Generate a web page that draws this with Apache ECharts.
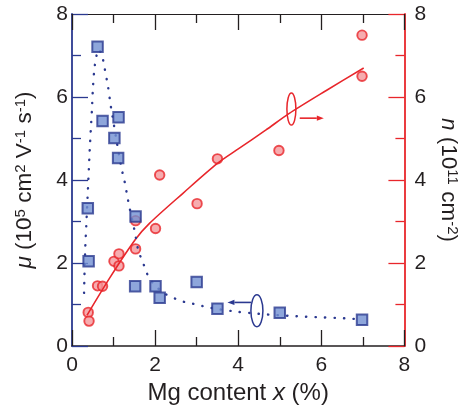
<!DOCTYPE html>
<html>
<head>
<meta charset="utf-8">
<script src="https://cdn.jsdelivr.net/npm/echarts@6/dist/echarts.min.js"></script>
<style>
  html, body { margin: 0; padding: 0; background: #fff; }
  #chart { width: 468px; height: 410px; }
</style>
</head>
<body>
<div id="chart"></div>
<script>
// Mobility (mu, 1e5 cm^2/Vs) vs Mg content x (%)
const muX = [0.38, 0.40, 0.615, 0.735, 1.02, 1.12, 1.11, 1.53, 1.52, 2.01, 2.11, 3.0, 3.5, 5.0, 6.98];
const muY = [3.32, 2.04, 7.21, 5.42, 5.01, 5.51, 4.53, 3.12, 1.44, 1.44, 1.16, 1.54, 0.90, 0.80, 0.63];

// Carrier density (n, 1e11 cm^-2) vs Mg content x (%)
const nX = [0.39, 0.41, 0.615, 0.735, 1.01, 1.13, 1.13, 1.53, 1.53, 2.01, 2.11, 3.01, 3.5, 4.98, 6.98, 6.98];
const nY = [0.81, 0.60, 1.45, 1.44, 2.04, 2.22, 1.93, 3.02, 2.34, 2.83, 4.12, 3.43, 4.51, 4.71, 7.49, 6.50];

// Guide curve through the mobility data (dotted)
const muGuideX = [0.29, 0.30, 0.32, 0.35, 0.38, 0.41, 0.43, 0.455, 0.48, 0.50, 0.53, 0.57, 0.64, 0.72, 0.79, 0.87, 0.93, 0.97, 1.08, 1.19, 1.25, 1.33, 1.37, 1.51, 1.59, 1.67, 1.75, 1.83, 2.0, 2.27, 2.51, 2.71, 2.95, 3.15, 3.5, 4.02, 4.46, 4.68, 5.34, 6.0, 6.5, 7.0];
const muGuideY = [1.28, 1.72, 2.38, 3.04, 3.70, 4.36, 4.80, 5.26, 5.70, 6.15, 6.59, 6.90, 7.15, 7.02, 6.67, 6.23, 5.80, 5.56, 4.90, 4.28, 4.04, 3.62, 3.40, 2.76, 2.32, 2.10, 1.90, 1.69, 1.45, 1.24, 1.13, 1.06, 1.01, 0.96, 0.89, 0.82, 0.78, 0.76, 0.72, 0.69, 0.67, 0.64];

// Fit curve through the density data (solid)
const nFitX = [0.36, 0.92, 1.52, 1.87, 2.67, 3.5, 4.02, 4.66, 5.22, 6.14, 7.02];
const nFitY = [0.74, 1.66, 2.56, 2.96, 3.68, 4.40, 4.76, 5.20, 5.60, 6.17, 6.70];

// Axis ticks
const tickMin = 0, tickMax = 8, tickStep = 2;

const FONT = "'Liberation Sans', Arial, sans-serif";
const INK = '#231f20';
const BLUE = '#2b3990';
const RED = '#e8262b';

const pairs = (xs, ys) => xs.map((x, i) => [x, ys[i]]);

function richFor(size) {
  return {
    i: { fontFamily: FONT, fontSize: size, fontStyle: 'italic', color: INK },
    s: { fontFamily: FONT, fontSize: Math.round(size * 0.66), color: INK, verticalAlign: 'top' },
    t: { fontFamily: FONT, fontSize: size, color: INK }
  };
}

function valueAxis(lineColor, lineWidth, extra) {
  return Object.assign({
    type: 'value',
    min: tickMin, max: tickMax, interval: tickStep,
    splitLine: { show: false },
    axisLine: { show: true, onZero: false, lineStyle: { color: lineColor, width: lineWidth } },
    axisTick: { show: true, inside: true, length: 16, lineStyle: { color: lineColor, width: 1.3 } },
    minorTick: { show: true, splitNumber: 2, length: 9, lineStyle: { color: lineColor, width: 1.3 } },
    axisLabel: { fontFamily: FONT, fontSize: 21, color: INK }
  }, extra);
}

const chart = echarts.init(document.getElementById('chart'), null, { renderer: 'canvas' });

chart.setOption({
  animation: false,
  textStyle: { fontFamily: FONT },
  grid: { left: 72, right: 62, top: 14, bottom: 64, containLabel: false },
  xAxis: [
    valueAxis(INK, 1.5, {
      position: 'bottom',
      axisLabel: { fontFamily: FONT, fontSize: 21, color: INK, margin: 9 },
      name: '{t|Mg content }{i|x}{t| (%)}',
      nameLocation: 'middle',
      nameGap: 33,
      nameTextStyle: { fontFamily: FONT, fontSize: 24, color: INK, rich: richFor(24) }
    }),
    valueAxis(INK, 1.2, {
      position: 'top',
      axisLabel: { show: false }
    })
  ],
  yAxis: [
    valueAxis(BLUE, 1.8, {
      position: 'left',
      axisLabel: { fontFamily: FONT, fontSize: 21, color: INK, margin: 4 },
      name: '{i|μ}{t| (10}{s|5}{t| cm}{s|2}{t| V}{s|-1}{t| s}{s|-1}{t|)}',
      nameLocation: 'middle',
      nameRotate: 90,
      nameGap: 36,
      nameTextStyle: { fontFamily: FONT, fontSize: 22.5, color: INK, rich: richFor(22.5) }
    }),
    valueAxis(RED, 1.8, {
      position: 'right',
      axisLabel: { fontFamily: FONT, fontSize: 21, color: INK, margin: 10 },
      name: '{i|n}{t| (10}{s|11}{t| cm}{s|-2}{t|)}',
      nameLocation: 'middle',
      nameRotate: -90,
      nameGap: 26,
      nameTextStyle: { fontFamily: FONT, fontSize: 22.5, color: INK, rich: richFor(22.5) }
    })
  ],
  series: [
    {
      type: 'scatter', xAxisIndex: 0, yAxisIndex: 1,
      data: pairs(nX, nY),
      symbol: 'circle', symbolSize: 9.5,
      itemStyle: { color: '#f4979b', borderColor: RED, borderWidth: 1.9 },
      z: 2, silent: true
    },
    {
      type: 'line', xAxisIndex: 0, yAxisIndex: 1,
      data: pairs(nFitX, nFitY),
      symbol: 'none', smooth: 0.3,
      lineStyle: { color: RED, width: 1.6 },
      z: 3, silent: true
    },
    {
      type: 'line', xAxisIndex: 0, yAxisIndex: 0,
      data: pairs(muGuideX, muGuideY),
      symbol: 'none', smooth: 0.2,
      lineStyle: { color: BLUE, width: 2.4, type: [0.3, 9.2], cap: 'round' },
      z: 3, silent: true
    },
    {
      type: 'scatter', xAxisIndex: 0, yAxisIndex: 0,
      data: pairs(muX, muY),
      symbol: 'rect', symbolSize: 10.5,
      itemStyle: { color: '#7290d2', borderColor: BLUE, borderWidth: 2 },
      z: 5, silent: true
    }
  ]
});

// Loop-and-arrow markers indicating which axis each data set belongs to
function loopArrow(color, center, rx, ry, from, to) {
  const c = chart.convertToPixel({ xAxisIndex: 0, yAxisIndex: 0 }, center);
  const a = chart.convertToPixel({ xAxisIndex: 0, yAxisIndex: 0 }, from);
  const b = chart.convertToPixel({ xAxisIndex: 0, yAxisIndex: 0 }, to);
  const dir = Math.sign(b[0] - a[0]);
  const head = 7, half = 2.6;
  return [
    { type: 'ellipse', shape: { cx: c[0], cy: c[1], rx: rx, ry: ry },
      style: { fill: 'none', stroke: color, lineWidth: 1.5 }, z: 10 },
    { type: 'line', shape: { x1: a[0], y1: a[1], x2: b[0] - dir * head, y2: b[1] },
      style: { stroke: color, lineWidth: 1.6 }, z: 10 },
    { type: 'polygon',
      shape: { points: [[b[0], b[1]], [b[0] - dir * head, b[1] - half], [b[0] - dir * head, b[1] + half]] },
      style: { fill: color }, z: 10 }
  ];
}

chart.setOption({
  graphic: [].concat(
    loopArrow(RED, [5.28, 5.71], 4.5, 16, [5.48, 5.49], [6.06, 5.49]),
    loopArrow(BLUE, [4.45, 0.85], 6, 16, [4.31, 1.05], [3.74, 1.05])
  )
});
</script>
</body>
</html>
